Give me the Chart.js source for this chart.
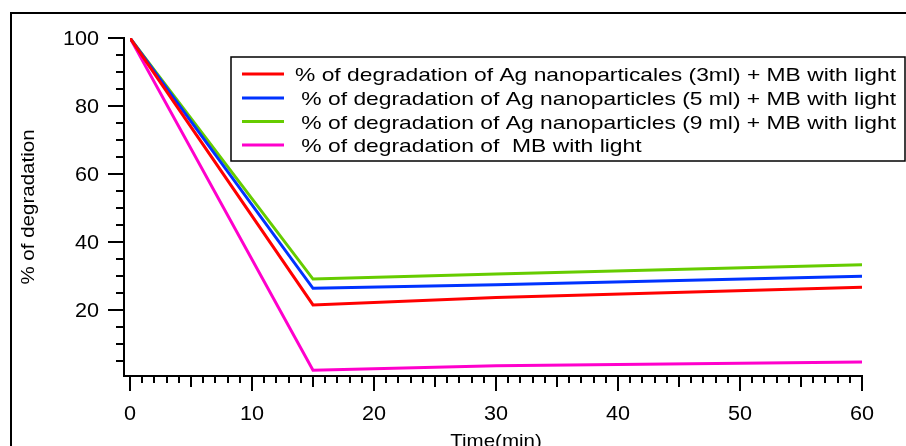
<!DOCTYPE html>
<html>
<head>
<meta charset="utf-8">
<script src="https://cdn.jsdelivr.net/npm/chart.js@4/dist/chart.umd.min.js"></script>
<style>
  html, body { margin: 0; padding: 0; background: #ffffff; }
  #wrap { width: 906px; height: 446px; }
</style>
</head>
<body>
<div id="wrap"><canvas id="chart" width="906" height="446"></canvas></div>
<script>
// Irradiation time (min)
const times = [0, 15, 30, 60];
// Degradation (%) for each sample
const ag3ml = [100, 21.5, 23.7, 26.7];
const ag5ml = [100, 26.4, 27.4, 29.9];
const ag9ml = [100, 29.1, 30.6, 33.3];
const mbOnly = [100, 2.3, 3.6, 4.7];

const seriesLabels = [
  '% of degradation of Ag nanoparticales (3ml) + MB with light',
  ' % of degradation of Ag nanoparticles (5 ml) + MB with light',
  ' % of degradation of Ag nanoparticles (9 ml) + MB with light',
  ' % of degradation of  MB with light'
];
const seriesColors = ['#ff0000', '#0033ff', '#66cc00', '#ff00cc'];

// Axis ticks
const xMajorTicks = [0, 10, 20, 30, 40, 50, 60];
const xTickLabels = ['0', '10', '20', '30', '40', '50', '60'];
const yMajorTicks = [20, 40, 60, 80, 100];
const yTickLabels = ['20', '40', '60', '80', '100'];
const xTitle = 'Time(min)';
const yTitle = '% of degradation';

const FONT = '"Liberation Sans", Arial, Helvetica, sans-serif';

function pairs(xs, ys) {
  return xs.map((x, i) => ({ x: x, y: ys[i] }));
}

function stretchedText(ctx, text, x, y, align, sx) {
  ctx.save();
  ctx.translate(x, y);
  ctx.scale(sx, 1);
  ctx.textAlign = align;
  ctx.fillText(text, 0, 0);
  ctx.restore();
}

// Igor-style offset axes, frame, titles and boxed legend
const decorations = {
  id: 'decorations',
  afterDraw(chart) {
    const ctx = chart.ctx;
    const xs = chart.scales.x;
    const ys = chart.scales.y;
    const area = chart.chartArea;
    const axisX = area.left - 6;
    const axisY = area.bottom;

    ctx.save();
    ctx.strokeStyle = '#000';
    ctx.fillStyle = '#000';
    ctx.lineCap = 'butt';

    // outer frame
    ctx.lineWidth = 2;
    ctx.strokeRect(11, 13, 920, 460);

    // axis lines
    ctx.beginPath();
    ctx.moveTo(axisX, ys.getPixelForValue(100) - 1);
    ctx.lineTo(axisX, axisY);
    ctx.lineTo(xs.getPixelForValue(60) + 1, axisY);
    ctx.stroke();

    // y ticks every 5, major every 20
    ctx.lineWidth = 2;
    for (let v = 5; v <= 100; v += 5) {
      const py = Math.round(ys.getPixelForValue(v));
      const major = v % 20 === 0;
      ctx.beginPath();
      ctx.moveTo(axisX, py);
      ctx.lineTo(axisX - (major ? 16 : 8), py);
      ctx.stroke();
    }
    // x ticks every 1, medium every 5, major every 10
    for (let v = 0; v <= 60; v += 1) {
      const px = Math.round(xs.getPixelForValue(v));
      let len = 7;
      if (v % 10 === 0) len = 15;
      else if (v % 5 === 0) len = 11;
      ctx.beginPath();
      ctx.moveTo(px, axisY);
      ctx.lineTo(px, axisY + len);
      ctx.stroke();
    }

    // tick labels
    ctx.font = '20px ' + FONT;
    ctx.textBaseline = 'alphabetic';
    yMajorTicks.forEach((v, i) => {
      const py = ys.getPixelForValue(v);
      stretchedText(ctx, yTickLabels[i], 99, py + 7, 'right', 1.08);
    });
    xMajorTicks.forEach((v, i) => {
      const px = xs.getPixelForValue(v);
      stretchedText(ctx, xTickLabels[i], px, 420, 'center', 1.08);
    });

    // axis titles
    ctx.font = '19px ' + FONT;
    stretchedText(ctx, xTitle, (area.left + area.right) / 2, 447, 'center', 1.08);
    ctx.save();
    ctx.translate(34, (area.top + area.bottom) / 2);
    ctx.rotate(-Math.PI / 2);
    ctx.scale(1.08, 1);
    ctx.textAlign = 'center';
    ctx.fillText(yTitle, 0, 0);
    ctx.restore();

    // legend box
    const lx = 231, ly = 57, lw = 674, lh = 104;
    ctx.fillStyle = '#fff';
    ctx.fillRect(lx, ly, lw, lh);
    ctx.lineWidth = 1.5;
    ctx.strokeStyle = '#000';
    ctx.strokeRect(lx, ly, lw, lh);

    ctx.font = '19px ' + FONT;
    const w0 = ctx.measureText(seriesLabels[0]).width;
    const sx = 601 / w0;
    const rowY = [74, 98, 121.5, 145];
    seriesLabels.forEach((label, i) => {
      ctx.strokeStyle = seriesColors[i];
      ctx.lineWidth = 3;
      ctx.beginPath();
      ctx.moveTo(242, rowY[i]);
      ctx.lineTo(284, rowY[i]);
      ctx.stroke();
      ctx.fillStyle = '#000';
      stretchedText(ctx, label, 295, rowY[i] + 7, 'left', sx);
    });

    ctx.restore();
  }
};

const datasets = [ag3ml, ag5ml, ag9ml, mbOnly].map((vals, i) => ({
  label: seriesLabels[i].trim(),
  data: pairs(times, vals),
  borderColor: seriesColors[i],
  backgroundColor: seriesColors[i],
  borderWidth: 3,
  pointRadius: 0,
  tension: 0,
  fill: false
}));

new Chart(document.getElementById('chart'), {
  type: 'line',
  data: { datasets: datasets },
  options: {
    responsive: false,
    animation: false,
    devicePixelRatio: 1,
    layout: { padding: { left: 130, right: 44, top: 38, bottom: 70 } },
    scales: {
      x: { type: 'linear', min: 0, max: 60, display: false },
      y: { type: 'linear', min: 0.6, max: 100, display: false }
    },
    plugins: {
      legend: { display: false },
      tooltip: { enabled: false }
    }
  },
  plugins: [decorations]
});
</script>
</body>
</html>
